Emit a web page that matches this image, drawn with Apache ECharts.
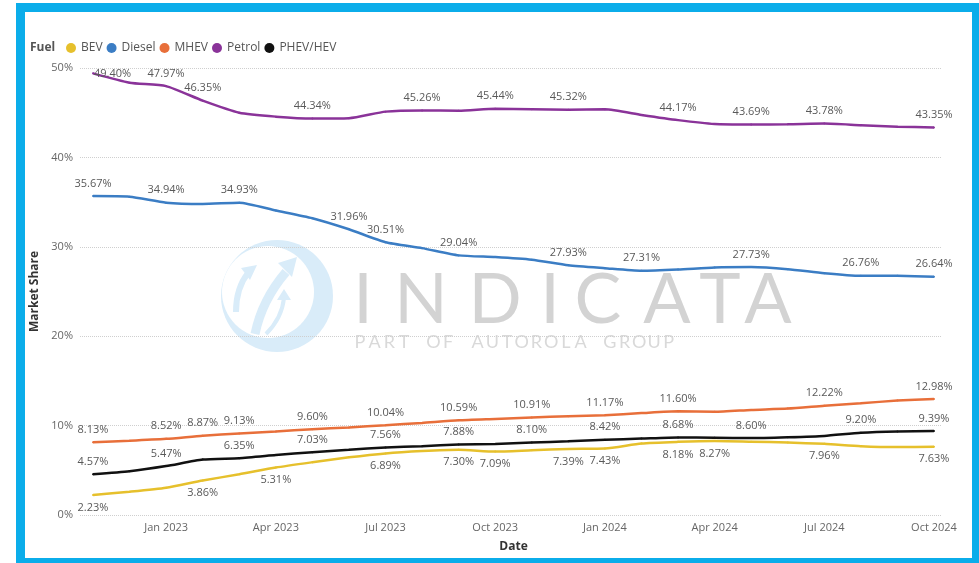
<!DOCTYPE html>
<html>
<head>
<meta charset="utf-8">
<script src="https://cdn.jsdelivr.net/npm/echarts@6/dist/echarts.min.js"></script>
<style>
  html, body { margin: 0; padding: 0; background: #fff; }
  #main { position: absolute; left: 0; top: 0; width: 979px; height: 563px; }
  #frame {
    position: absolute; left: 16px; top: 3px; width: 963px; height: 560px;
    box-sizing: border-box; border-style: solid; border-color: #0badea;
    border-width: 9px 7px 5px 9px; pointer-events: none;
  }
</style>
</head>
<body>
<div id="main"></div>
<div id="frame"></div>
<script>
// months Nov 2022 .. Oct 2024
var months = ['Nov 2022', 'Dec 2022', 'Jan 2023', 'Feb 2023', 'Mar 2023', 'Apr 2023', 'May 2023', 'Jun 2023',
  'Jul 2023', 'Aug 2023', 'Sep 2023', 'Oct 2023', 'Nov 2023', 'Dec 2023', 'Jan 2024', 'Feb 2024',
  'Mar 2024', 'Apr 2024', 'May 2024', 'Jun 2024', 'Jul 2024', 'Aug 2024', 'Sep 2024', 'Oct 2024']
var tickMonths = ['Jan 2023', 'Apr 2023', 'Jul 2023', 'Oct 2023', 'Jan 2024', 'Apr 2024', 'Jul 2024', 'Oct 2024']
var yTicks = [0, 10, 20, 30, 40, 50]

var bev = [2.23, 2.60, 3.05, 3.86, 4.55, 5.31, 5.90, 6.45, 6.89, 7.15, 7.30, 7.09,
  7.25, 7.39, 7.43, 8.00, 8.18, 8.27, 8.20, 8.10, 7.96, 7.70, 7.60, 7.63]
var diesel = [35.67, 35.60, 34.94, 34.80, 34.93, 34.06, 33.20, 31.96, 30.51, 29.85, 29.04, 28.85,
  28.55, 27.93, 27.60, 27.31, 27.45, 27.68, 27.73, 27.50, 27.05, 26.76, 26.75, 26.64]
var mhev = [8.13, 8.30, 8.52, 8.87, 9.13, 9.35, 9.60, 9.80, 10.04, 10.30, 10.59, 10.75,
  10.91, 11.05, 11.17, 11.40, 11.60, 11.54, 11.75, 11.90, 12.22, 12.50, 12.80, 12.98]
var petrol = [49.40, 48.36, 47.97, 46.35, 45.00, 44.56, 44.34, 44.38, 45.12, 45.26, 45.23, 45.44,
  45.38, 45.32, 45.38, 44.75, 44.17, 43.74, 43.69, 43.70, 43.78, 43.60, 43.44, 43.35]
var phev = [4.57, 4.90, 5.47, 6.20, 6.35, 6.70, 7.03, 7.30, 7.56, 7.70, 7.88, 7.95,
  8.10, 8.25, 8.42, 8.55, 8.68, 8.65, 8.60, 8.70, 8.85, 9.20, 9.35, 9.39]

// which points carry a data label
var bevLabels = [0, 3, 5, 8, 10, 11, 13, 14, 16, 17, 20, 23]
var dieselLabels = [0, 2, 4, 7, 8, 10, 13, 15, 18, 21, 23]
var mhevLabels = [0, 2, 3, 4, 6, 8, 10, 12, 14, 16, 20, 23]
var petrolLabels = [0, 2, 3, 6, 9, 11, 13, 16, 18, 20, 23]
var phevLabels = [0, 2, 4, 6, 8, 10, 12, 14, 16, 18, 21, 23]

var FONT = "'Open Sans', 'Noto Sans', sans-serif"
var Y_MAX = yTicks[yTicks.length - 1]

function makeSeries (name, values, labelIdx, color, pos) {
  return {
    name: name,
    type: 'line',
    xAxisIndex: 1,
    yAxisIndex: 1,
    smooth: 0.2,
    symbol: 'circle',
    symbolSize: 2,
    showSymbol: true,
    lineStyle: { width: 2.5, color: color },
    itemStyle: { color: color },
    emphasis: { disabled: true },
    label: {
      show: false,
      position: pos,
      distance: 6,
      color: '#595959',
      fontSize: 11,
      fontFamily: FONT,
      formatter: function (p) { return p.value.toFixed(2) + '%' }
    },
    data: values.map(function (v, i) {
      if (labelIdx.indexOf(i) < 0) return v
      // keep labels inside the plot like the original
      if (pos === 'top' && v > Y_MAX - 1.5) return { value: v, label: { show: true, position: 'right', distance: 0 } }
      return { value: v, label: { show: true } }
    })
  }
}

// watermark (logo + text)
var wmColor = '#d9ecf9'
var watermark = [
  { type: 'circle', shape: { cx: 277, cy: 296, r: 56 }, style: { fill: wmColor } },
  { type: 'circle', shape: { cx: 268, cy: 292, r: 46 }, style: { fill: '#fff' } },
  { type: 'bezierCurve', shape: { x1: 255, y1: 334, cpx1: 262, cpy1: 300, x2: 286, y2: 272 }, style: { stroke: wmColor, lineWidth: 9, fill: null } },
  { type: 'polygon', shape: { points: [[278, 263], [297, 257], [292, 277]] }, style: { fill: wmColor } },
  { type: 'bezierCurve', shape: { x1: 236, y1: 312, cpx1: 236, cpy1: 288, x2: 248, y2: 273 }, style: { stroke: wmColor, lineWidth: 6, fill: null } },
  { type: 'polygon', shape: { points: [[241, 268], [257, 265], [250, 280]] }, style: { fill: wmColor } },
  { type: 'bezierCurve', shape: { x1: 266, y1: 334, cpx1: 282, cpy1: 318, x2: 284, y2: 298 }, style: { stroke: wmColor, lineWidth: 4, fill: null } },
  { type: 'polygon', shape: { points: [[277, 300], [291, 300], [284, 289]] }, style: { fill: wmColor } }
]
var bigLetters = [['I', 363], ['N', 421], ['D', 495], ['I', 550], ['C', 598], ['A', 667], ['T', 720], ['A', 768]]
bigLetters.forEach(function (l) {
  watermark.push({
    type: 'text', x: l[1], y: 300,
    style: { text: l[0], fill: '#d3d3d3', fontSize: 70, fontFamily: 'Lato', align: 'center', verticalAlign: 'middle' }
  })
})
'PART OF AUTOROLA GROUP'.split('').forEach(function (c, i) {
  if (c === ' ') return
  watermark.push({
    type: 'text', x: 360 + i * 14.7, y: 342,
    style: { text: c, fill: '#d9d9d9', fontSize: 18, fontFamily: 'Lato', align: 'center', verticalAlign: 'middle' }
  })
})
watermark.push({
  type: 'text', x: 30, y: 48,
  style: { text: 'Fuel', fill: '#555', fontSize: 12, fontWeight: 'bold', fontFamily: FONT, verticalAlign: 'middle' }
})
watermark.forEach(function (e) { e.silent = true; e.z = -1 })

var chart = echarts.init(document.getElementById('main'))
chart.setOption({
  backgroundColor: 'transparent',
  textStyle: { fontFamily: FONT },
  animation: false,
  graphic: { elements: watermark },
  legend: {
    left: 66,
    top: 42,
    padding: 0,
    icon: 'circle',
    itemWidth: 10,
    itemHeight: 10,
    itemGap: 4,
    textStyle: { fontSize: 12, color: '#555', fontFamily: FONT },
    data: ['BEV', 'Diesel', 'MHEV', 'Petrol', 'PHEV/HEV']
  },
  grid: [
    { left: 80, right: 37, top: 68, bottom: 48 },
    { left: 93, right: 45, top: 68, bottom: 48 }
  ],
  xAxis: [
    { type: 'value', gridIndex: 0, show: false, min: 0, max: 1 },
    {
      type: 'category',
      gridIndex: 1,
      data: months,
      boundaryGap: false,
      axisLine: { show: false },
      axisTick: { show: false },
      axisLabel: {
        color: '#666',
        fontSize: 11,
        margin: 7,
        interval: function (i, v) { return tickMonths.indexOf(v) >= 0 }
      },
      name: 'Date',
      nameLocation: 'middle',
      nameGap: 26,
      nameTextStyle: { color: '#333', fontSize: 12, fontWeight: 'bold' }
    }
  ],
  yAxis: [
    {
      type: 'value',
      gridIndex: 0,
      min: yTicks[0],
      max: Y_MAX,
      interval: yTicks[1] - yTicks[0],
      axisLine: { show: false },
      axisTick: { show: false },
      axisLabel: { color: '#666', fontSize: 11, margin: 7, formatter: '{value}%' },
      splitLine: { lineStyle: { color: '#cfcfcf', type: 'dotted', width: 1 } },
      name: 'Market Share',
      nameLocation: 'middle',
      nameRotate: 90,
      nameGap: 37,
      nameTextStyle: { color: '#333', fontSize: 12, fontWeight: 'bold' }
    },
    {
      type: 'value',
      gridIndex: 1,
      min: yTicks[0],
      max: Y_MAX,
      show: false,
      splitLine: { show: false }
    }
  ],
  series: [
    makeSeries('BEV', bev, bevLabels, '#e6c02c', 'bottom'),
    makeSeries('Diesel', diesel, dieselLabels, '#3b7dc4', 'top'),
    makeSeries('MHEV', mhev, mhevLabels, '#e86f3a', 'top'),
    makeSeries('Petrol', petrol, petrolLabels, '#8a3399', 'top'),
    makeSeries('PHEV/HEV', phev, phevLabels, '#111111', 'top')
  ]
})
</script>
</body>
</html>
